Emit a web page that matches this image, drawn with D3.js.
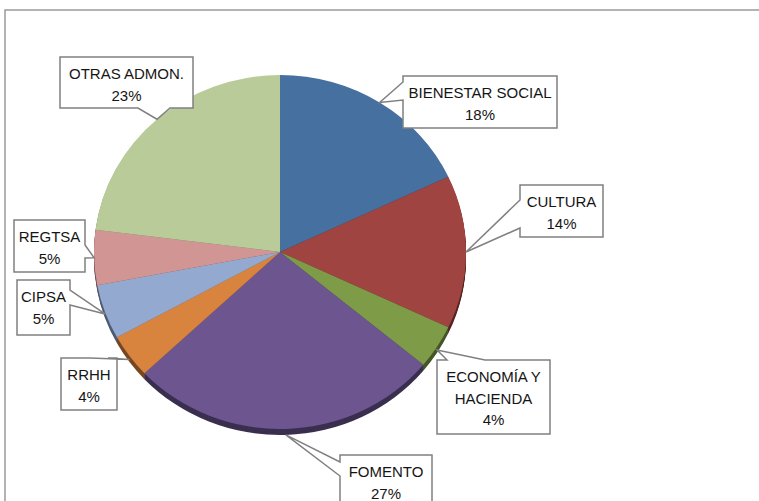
<!DOCTYPE html>
<html>
<head>
<meta charset="utf-8">
<script src="https://cdn.jsdelivr.net/npm/d3@7"></script>
<style>
body { margin: 0; background: #fff; }
text { font-family: "Liberation Sans", Arial, sans-serif; font-size: 15px; fill: #151515; }
</style>
</head>
<body>
<div id="chart"></div>
<script>
// data
var categories = ["BIENESTAR SOCIAL", "CULTURA", "ECONOMÍA Y HACIENDA", "FOMENTO", "RRHH", "CIPSA", "REGTSA", "OTRAS ADMON."];
var values = [18, 14, 4, 27, 4, 5, 5, 23];
var colors = ["#46709f", "#a04441", "#7e9b48", "#6d5690", "#d8843e", "#93a9d0", "#d19594", "#b9cb98"];

// label boxes (layout only)
var boxes = [
  {x: 403, y: 76, w: 154, h: 52, side: "left", base: [82, 100], lines: ["BIENESTAR SOCIAL"]},
  {x: 520, y: 185, w: 83, h: 52, side: "left", base: [200, 228], lines: ["CULTURA"]},
  {x: 437, y: 360, w: 113, h: 74, side: "top", base: [447, 485], lines: ["ECONOMÍA Y", "HACIENDA"]},
  {x: 340, y: 455, w: 92, h: 60, side: "left", base: [462, 476], lines: ["FOMENTO"]},
  {x: 61, y: 358, w: 56, h: 52, side: "top", base: [90, 108], lines: ["RRHH"]},
  {x: 17, y: 280, w: 53, h: 55, side: "right", base: [290, 305], lines: ["CIPSA"]},
  {x: 14, y: 220, w: 71, h: 52, side: "right", base: [245, 258], lines: ["REGTSA"]},
  {x: 60, y: 57, w: 133, h: 51, side: "bottom", base: [138, 170], lines: ["OTRAS ADMON."]}
];

var width = 759, height = 501;
var cx = 280, cy = 252, r = 186, ry = 177, depth = 6;
var squash = ry / r;

var svg = d3.select("#chart")
.append("svg")
.attr("width", width)
.attr("height", height);

// outer frame (right and bottom cut off)
svg.append("rect")
.attr("x", 5)
.attr("y", 10)
.attr("width", 900)
.attr("height", 700)
.attr("fill", "none")
.attr("stroke", "#9a9a9a")
.attr("stroke-width", 1.5);

var pie = d3.pie().sort(null).value(function(d){return d;});
var arcs = pie(values);
var arc = d3.arc().innerRadius(0).outerRadius(r);

// 3d side: stack darker copies downward
for (var k = depth; k >= 1; k--) {
  svg.append("g")
  .attr("transform", "translate(" + cx + "," + (cy + k) + ") scale(1," + squash + ")")
  .selectAll("path")
  .data(arcs)
  .enter()
  .append("path")
  .attr("d", arc)
  .attr("fill", function(d,i){return d3.color(colors[i]).darker(1.7);});
}

// top face
svg.append("g")
.attr("transform", "translate(" + cx + "," + cy + ") scale(1," + squash + ")")
.selectAll("path")
.data(arcs)
.enter()
.append("path")
.attr("d", arc)
.attr("fill", function(d,i){return colors[i];});

// point on the rim for a slice
function anchorOf(d) {
  var a = (d.startAngle + d.endAngle) / 2;
  var x = cx + r * Math.sin(a);
  var y = cy - ry * Math.cos(a);
  if (Math.cos(a) < 0) y = y - Math.cos(a) * depth;
  return [x, y];
}

function calloutPath(b, p) {
  var x0 = b.x, y0 = b.y, x1 = b.x + b.w, y1 = b.y + b.h;
  var s = "M" + x0 + "," + y0;
  if (b.side == "top") s += "L" + b.base[0] + "," + y0 + "L" + p[0] + "," + p[1] + "L" + b.base[1] + "," + y0;
  s += "L" + x1 + "," + y0;
  if (b.side == "right") s += "L" + x1 + "," + b.base[0] + "L" + p[0] + "," + p[1] + "L" + x1 + "," + b.base[1];
  s += "L" + x1 + "," + y1;
  if (b.side == "bottom") s += "L" + b.base[1] + "," + y1 + "L" + p[0] + "," + p[1] + "L" + b.base[0] + "," + y1;
  s += "L" + x0 + "," + y1;
  if (b.side == "left") s += "L" + x0 + "," + b.base[1] + "L" + p[0] + "," + p[1] + "L" + x0 + "," + b.base[0];
  return s + "Z";
}

var labels = svg.append("g")
.classed("labels", true);

var callouts = labels.selectAll("g")
.data(arcs)
.enter()
.append("g");

callouts.append("path")
.attr("d", function(d,i){return calloutPath(boxes[i], anchorOf(d));})
.attr("fill", "#fff")
.attr("stroke", "#808080")
.attr("stroke-width", 1.5)
.attr("stroke-linejoin", "miter");

callouts.each(function(d,i){
  var b = boxes[i];
  var lines = b.lines.concat([values[i] + "%"]);
  var g = d3.select(this);
  lines.forEach(function(t, j){
    g.append("text")
    .text(t)
    .attr("x", b.x + b.w / 2)
    .attr("y", b.y + 22 + j * 21.5)
    .attr("text-anchor", "middle");
  });
});
</script>
</body>
</html>
